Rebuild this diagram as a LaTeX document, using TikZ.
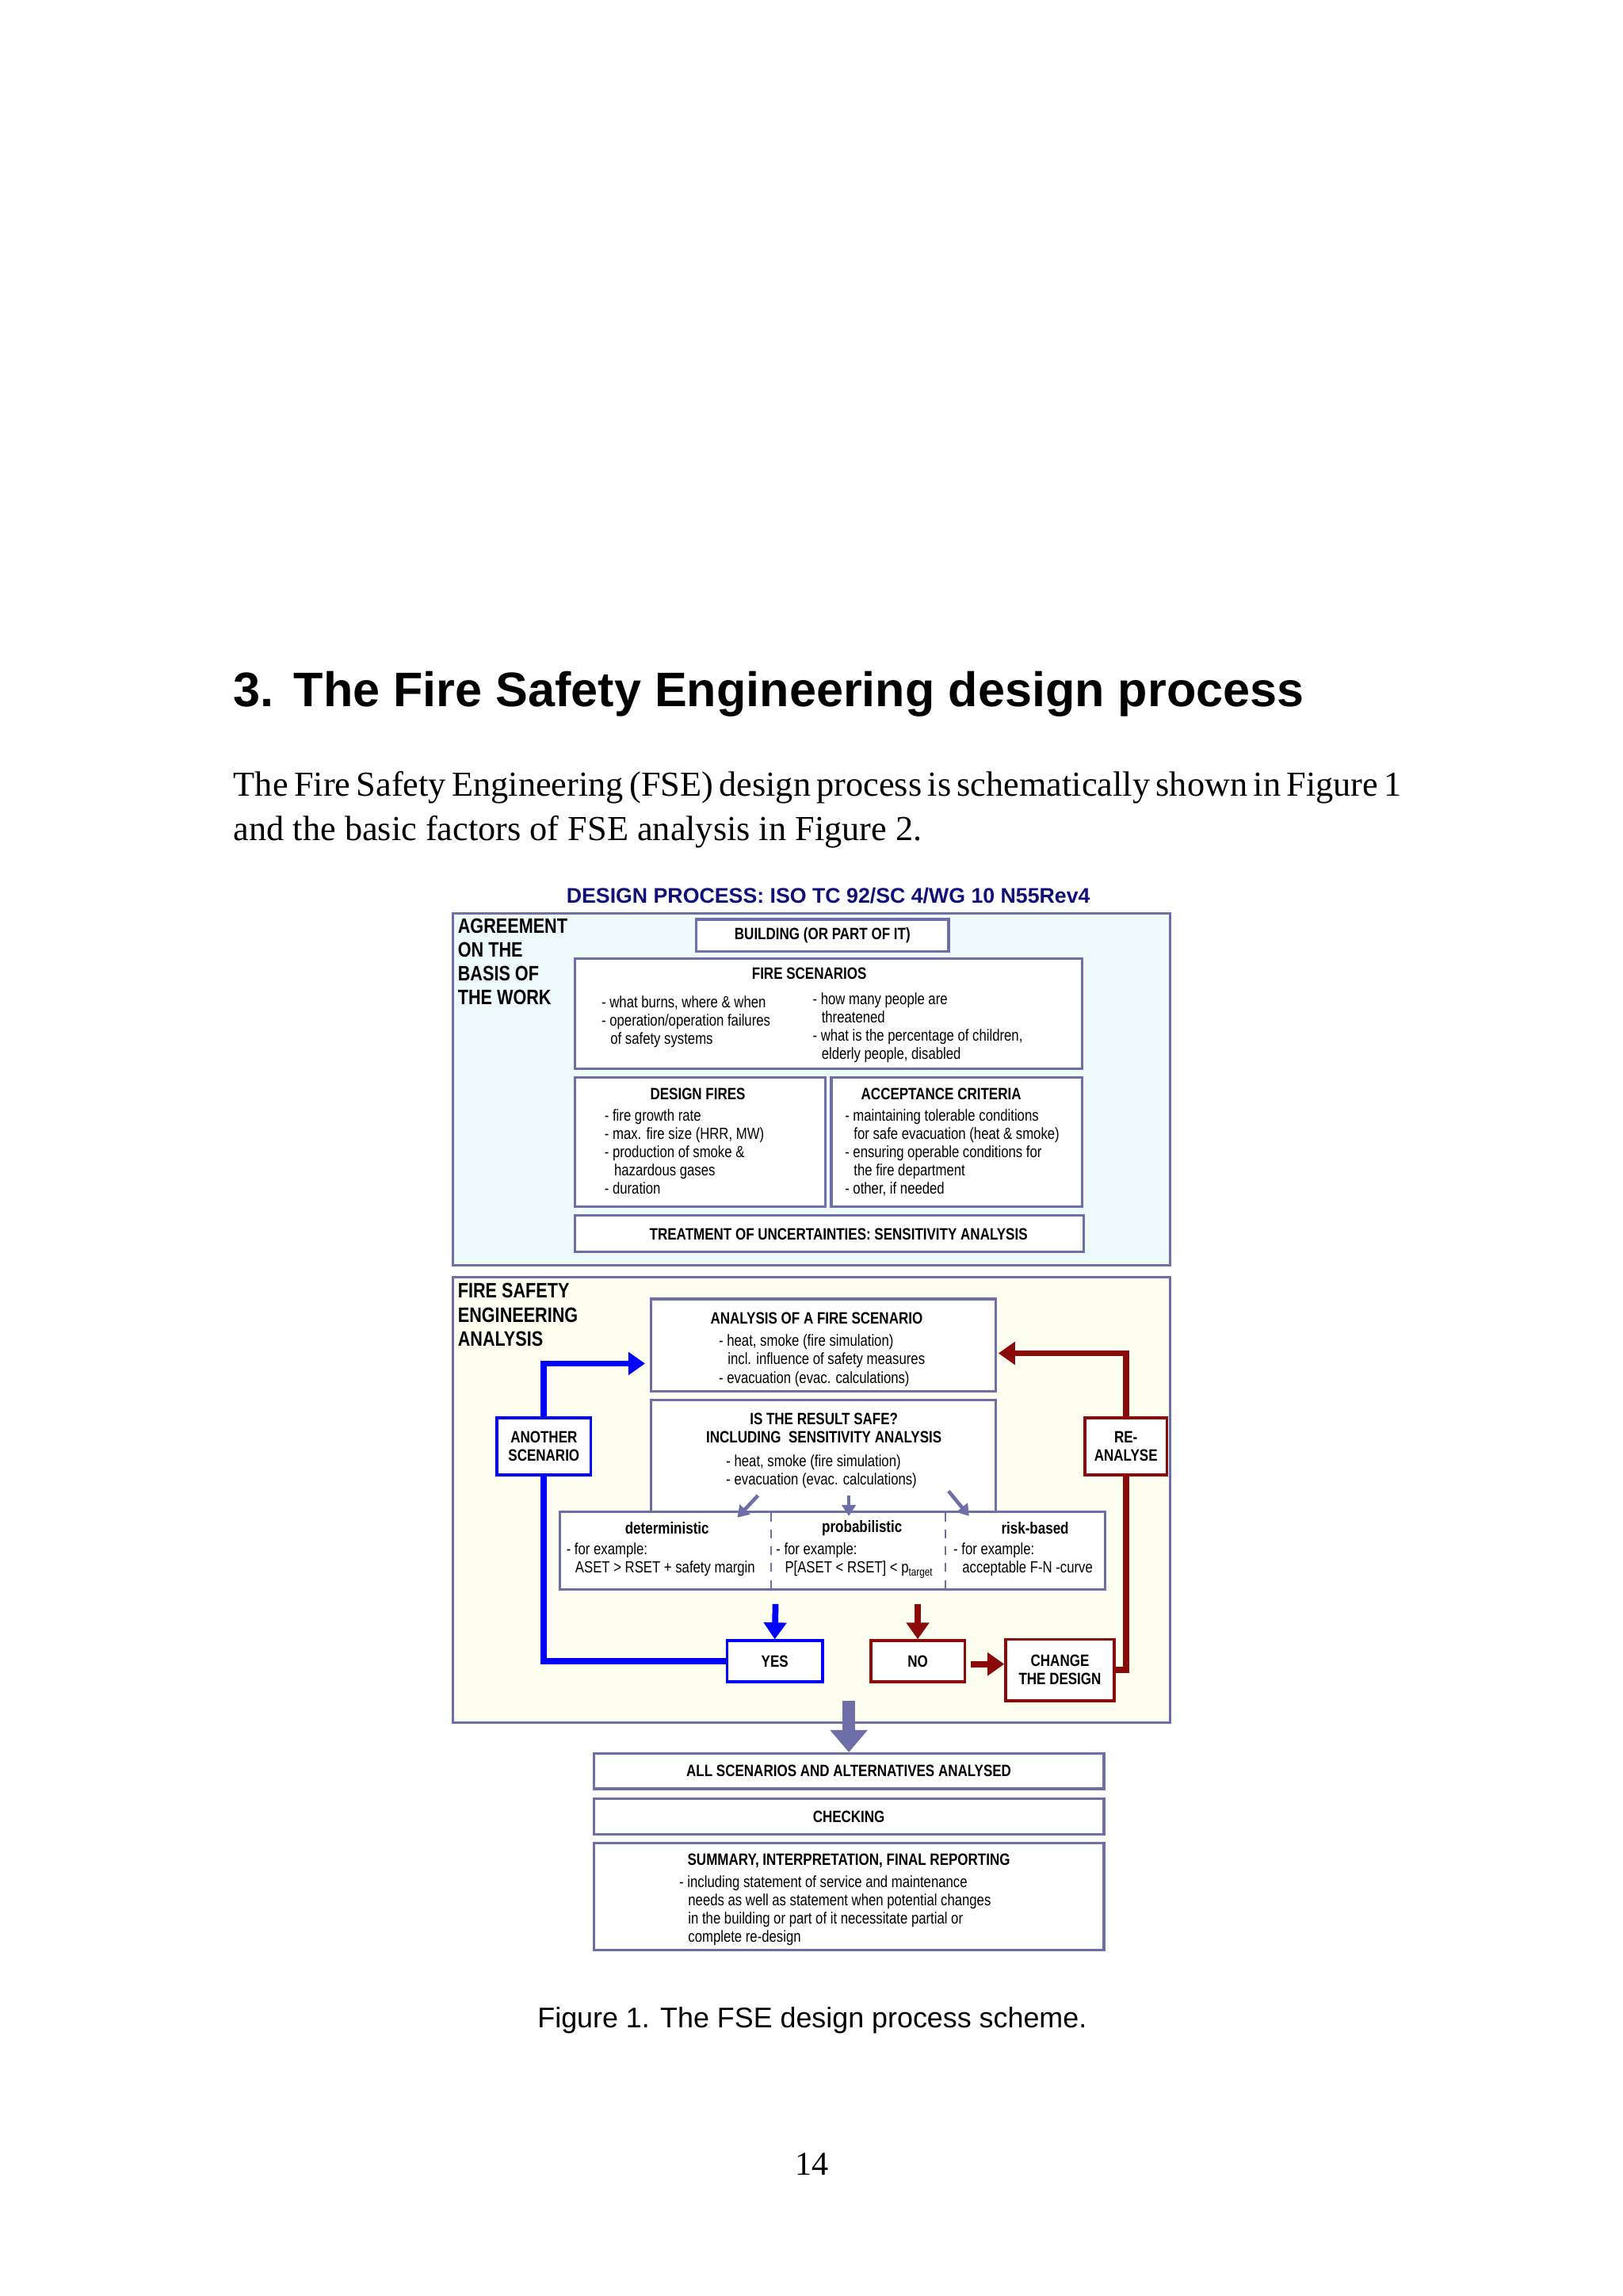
\documentclass[tikz,border=0pt]{standalone}
\usepackage{fontspec}
\setmainfont{Liberation Serif}
\newfontfamily\ar{Liberation Sans}
\newfontfamily\nar[FakeStretch=0.82]{Liberation Sans}
\usetikzlibrary{fit,arrows.meta,calc}
\definecolor{slate}{HTML}{6E6EA8}
\definecolor{dred}{HTML}{8B0A0A}
\definecolor{navy}{HTML}{10107A}
\definecolor{cyanbg}{HTML}{EEF9FC}
\definecolor{yelbg}{HTML}{FEFEF0}
\tikzset{
 box/.style={draw=slate,line width=0.9pt,fill=white,inner sep=0pt},
 frame/.style={draw=slate,line width=0.9pt,inner sep=0pt},
 bbox/.style={draw=blue,line width=1pt,fill=white,inner sep=0pt},
 rbox/.style={draw=dred,line width=1pt,fill=white,inner sep=0pt},
 hd/.style={font=\nar\bfseries\fontsize{5.9}{6.6}\selectfont,inner sep=0pt},
 tx/.style={font=\nar\fontsize{5.8}{6.55}\selectfont,align=left,anchor=north west,inner sep=0pt},
 lab/.style={font=\nar\bfseries\fontsize{7.5}{8.6}\selectfont,align=left,anchor=north west,inner sep=0pt},
 ptext/.style={font=\fontsize{12.6}{15.9}\selectfont,anchor=base west,inner sep=0pt},
 barrow/.style={blue,line width=2.2pt,-{Triangle[length=6pt,width=8pt]}},
 rarrow/.style={dred,line width=2.2pt,-{Triangle[length=6pt,width=8pt]}},
 sarrow/.style={slate,line width=1.3pt,-{Triangle[length=4pt,width=5pt]}},
}
\begin{document}
\begin{tikzpicture}[x=0.0185cm,y=-0.0185cm]
\useasboundingbox[fill=white] (0,0) rectangle (1107,1566);
% page text
\node[anchor=base west,font=\ar\bfseries\fontsize{17.4}{19}\selectfont,inner sep=0] (h3) at (159,482) {3.};
\node[anchor=base west,font=\ar\bfseries\fontsize{17.4}{19}\selectfont,inner sep=0] (h) at (200,482) {The Fire Safety Engineering design process};
\node[ptext] (p1) at (159,543) {\makebox[14.58cm][s]{The Fire Safety Engineering (FSE) design process is schematically shown in Figure 1}};
\node[ptext] (p2) at (159,573) {and the basic factors of FSE analysis in Figure 2.};
\node[font=\ar\fontsize{10.2}{12}\selectfont,inner sep=0] (cap) at (554,1378) {Figure 1. The FSE design process scheme.};
\node[font=\fontsize{12}{14}\selectfont,inner sep=0] (pg) at (554,1476) {14};
% diagram title
\node[font=\ar\bfseries\fontsize{7.6}{9}\selectfont,text=navy,inner sep=0] (title) at (565,611) {DESIGN PROCESS: ISO TC 92/SC 4/WG 10 N55Rev4};
% top frame
\node[frame,fill=cyanbg,fit={(309,623)(798,863)}] (top) {};
\node[lab] (agr) at (312,626) {AGREEMENT\\ON THE\\BASIS OF\\THE WORK};
\node[box,fit={(475,627)(647,649)}] (bld) {};
\node[hd] at (bld) {BUILDING (OR PART OF IT)};
\node[box,fit={(392,654)(738,729)}] (fs) {};
\node[hd] at (552,664) {FIRE SCENARIOS};
\node[tx] at (410,679) {- what burns, where \& when\\- operation/operation failures\\\hspace*{0.55em}of safety systems};
\node[tx] at (554,677) {- how many people are\\\hspace*{0.55em}threatened\\- what is the percentage of children,\\\hspace*{0.55em}elderly people, disabled};
\node[box,fit={(392,735)(563,823)}] (df) {};
\node[hd] at (476,746) {DESIGN FIRES};
\node[tx] at (412,756) {- fire growth rate\\- max. fire size (HRR, MW)\\- production of smoke \&\\\hspace*{0.6em}hazardous gases\\- duration};
\node[box,fit={(567,735)(738,823)}] (ac) {};
\node[hd] at (642,746) {ACCEPTANCE CRITERIA};
\node[tx] at (576,756) {- maintaining tolerable conditions\\\hspace*{0.55em}for safe evacuation (heat \& smoke)\\- ensuring operable conditions for\\\hspace*{0.55em}the fire department\\- other, if needed};
\node[box,fit={(392,829)(739,854)}] (tr) {};
\node[hd] at (572,842) {TREATMENT OF UNCERTAINTIES: SENSITIVITY ANALYSIS};
% bottom frame
\node[frame,fill=yelbg,fit={(309,871)(798,1175)}] (fse) {};
\node[lab] (fsel) at (312,875) {FIRE SAFETY\\ENGINEERING\\ANALYSIS};
\node[box,fit={(444,886)(679,949)}] (an) {};
\node[hd] at (557,899) {ANALYSIS OF A FIRE SCENARIO};
\node[tx] at (490,910) {- heat, smoke (fire simulation)\\\hspace*{0.55em}incl. influence of safety measures\\- evacuation (evac. calculations)};
\node[box,fit={(444,955)(679,1036)}] (is) {};
\node[hd,align=center] at (562,974) {IS THE RESULT SAFE?\\INCLUDING\ \ SENSITIVITY ANALYSIS};
\node[tx] at (495,992) {- heat, smoke (fire simulation)\\- evacuation (evac. calculations)};
\node[box,fit={(382,1031)(754,1084)}] (meth) {};
\draw[slate,dashed,line width=0.5pt] (526,1032) -- (526,1083);
\draw[slate,dashed,line width=0.5pt] (645,1032) -- (645,1083);
\node[hd] at (455,1042) {deterministic};
\node[hd] at (588,1042) {probabilistic};
\node[hd] at (706,1042) {risk-based};
\node[tx] at (386,1052) {- for example:\\\hspace*{0.55em}ASET {\textgreater} RSET + safety margin};
\node[tx] at (529,1052) {- for example:\\\hspace*{0.55em}P[ASET {\textless} RSET] {\textless} p\textsubscript{target}};
\node[tx] at (650,1052) {- for example:\\\hspace*{0.55em}acceptable F-N -curve};
\node[bbox,fit={(339,967)(403,1006)}] (anoth) {};
\node[hd,align=center] at (anoth) {ANOTHER\\SCENARIO};
\node[rbox,fit={(740,967)(796,1006)}] (rea) {};
\node[hd,align=center] at (rea) {RE-\\ANALYSE};
\node[bbox,fit={(496,1119)(561,1147)}] (yes) {};
\node[hd] at (yes) {YES};
\node[rbox,fit={(594,1119)(658,1147)}] (no) {};
\node[hd] at (no) {NO};
\node[rbox,fit={(686,1118)(760,1160)}] (chg) {};
\node[hd,align=center] at (chg) {CHANGE\\THE DESIGN};
% connectors
\coordinate (bin) at (440,930);
\coordinate (rin) at (681,923);
\draw[blue,line width=2.2pt] (yes.west) -| (anoth.south);
\draw[barrow] (anoth.north) |- (bin);
\draw[dred,line width=2.2pt] (chg.east) -| (rea.south);
\draw[rarrow] (rea.north) |- (rin);
\coordinate (ya) at (529,1094);
\coordinate (na) at (626,1094);
\draw[barrow] (ya) -- (yes.north);
\draw[rarrow] (na) -- (no.north);
\draw[rarrow] (662,1135) -- (chg.west |- 0,1135);
\draw[sarrow] (517,1020) -- (503,1035);
\draw[sarrow] (579,1020) -- (579,1034);
\draw[sarrow] (647,1017) -- (661,1034);
% bottom list
\node[box,fit={(405,1196)(753,1220)}] (all) {};
\node[hd] at (all) {ALL SCENARIOS AND ALTERNATIVES ANALYSED};
\node[box,fit={(405,1227)(753,1251)}] (chk) {};
\node[hd] at (chk) {CHECKING};
\node[box,fit={(405,1257)(753,1330)}] (sum) {};
\node[hd] at (579,1269) {SUMMARY, INTERPRETATION, FINAL REPORTING};
\node[tx] at (463,1279) {- including statement of service and maintenance\\\hspace*{0.55em}needs as well as statement when potential changes\\\hspace*{0.55em}in the building or part of it necessitate partial or\\\hspace*{0.55em}complete re-design};
\draw[slate,line width=4.5pt,-{Triangle[length=8pt,width=13pt]}] (579,1160) -- (all.north);
\end{tikzpicture}
\end{document}
